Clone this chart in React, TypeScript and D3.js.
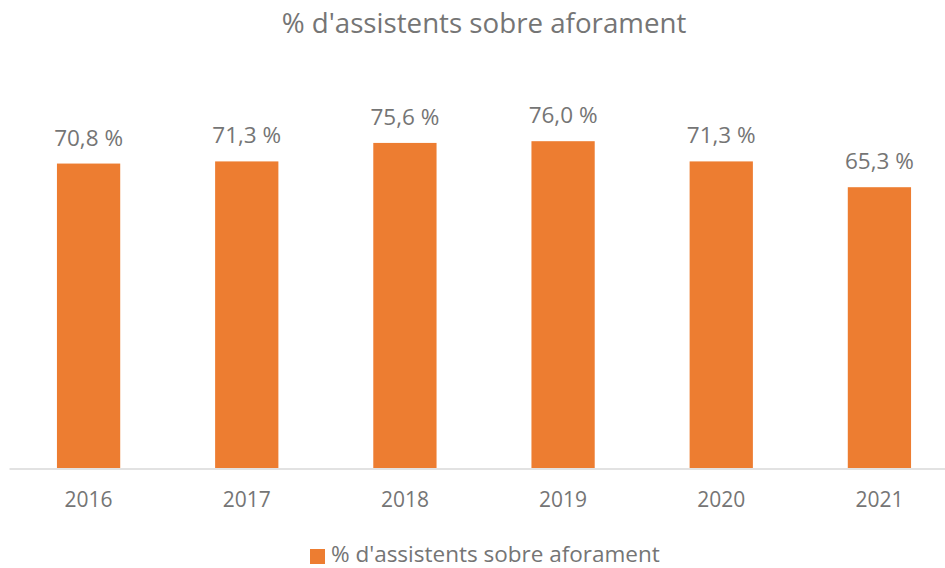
import React from "react";
import * as d3 from "d3";

const categories = ["2016", "2017", "2018", "2019", "2020", "2021"];
const values = [70.8, 71.3, 75.6, 76.0, 71.3, 65.3];
const valueLabels = ["70,8 %", "71,3 %", "75,6 %", "76,0 %", "71,3 %", "65,3 %"];
const title = "% d'assistents sobre aforament";
const seriesName = "% d'assistents sobre aforament";

const W = 945;
const H = 568;
const FONT = "'Open Sans', 'Liberation Sans', sans-serif";
const TEXT = "#757575";
const BAR = "#ED7D31";

export default function App() {
  const x = d3.scaleBand<string>().domain(categories).range([9.5, 958.5]).paddingInner(0.6).paddingOuter(0.3);
  const y = d3.scaleLinear().domain([0, 80]).range([468, 124]);
  const base = y(0);
  return (
    <svg width={W} height={H} style={{ position: "absolute", left: 0, top: 0, background: "#fff" }} fontFamily={FONT}>
      <rect width={W} height={H} fill="#fff" />
      <text x={484} y={33} textAnchor="middle" fontSize={27.7} fill={TEXT}>{title}</text>
      {categories.map((c, i) => (
        <g key={c}>
          <rect x={x(c)} y={y(values[i])} width={x.bandwidth()} height={base - y(values[i])} fill={BAR} />
          <text x={(x(c) as number) + x.bandwidth() / 2} y={y(values[i]) - 18} textAnchor="middle" fontSize={22.5} fill={TEXT}>{valueLabels[i]}</text>
          <text x={(x(c) as number) + x.bandwidth() / 2} y={507} textAnchor="middle" fontSize={21} fill={TEXT}>{c}</text>
        </g>
      ))}
      <line x1={9.5} x2={W} y1={base + 1} y2={base + 1} stroke="#D9D9D9" strokeWidth={1.5} />
      <rect x={310} y={549} width={15} height={15} fill={BAR} />
      <text x={331} y={562} fontSize={22.5} fill={TEXT}>{seriesName}</text>
    </svg>
  );
}
